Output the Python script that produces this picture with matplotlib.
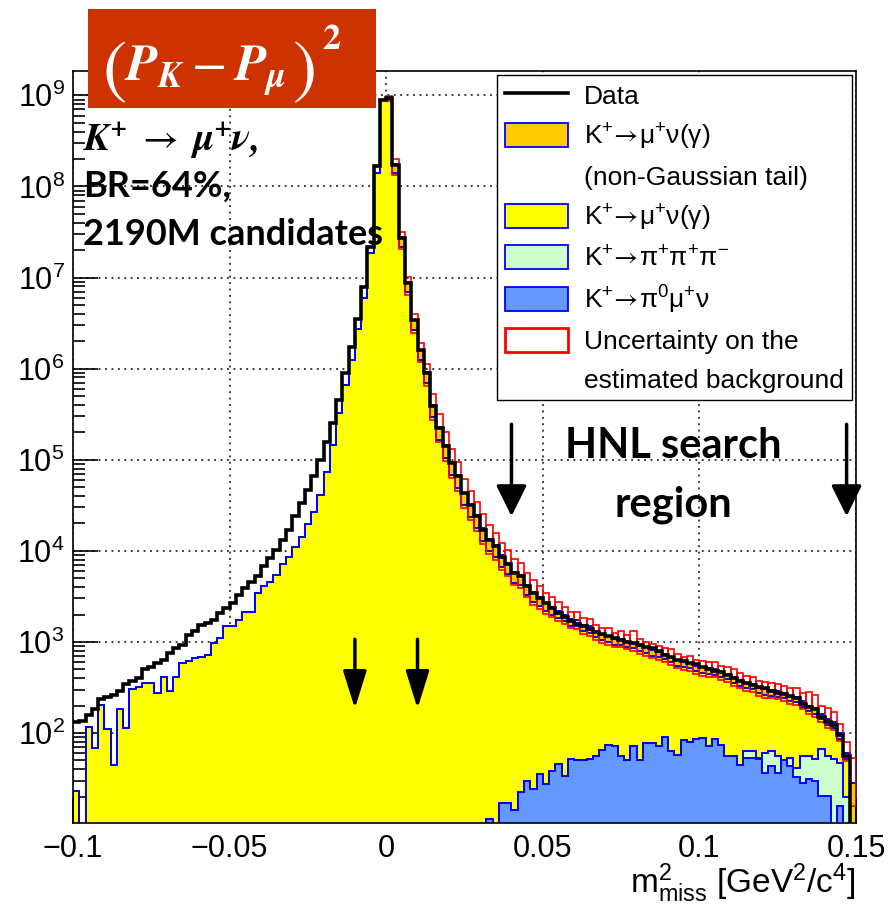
import numpy as np
import matplotlib
matplotlib.use('Agg')
import matplotlib.pyplot as plt
from matplotlib.patches import Patch, Rectangle
from matplotlib.lines import Line2D
from matplotlib.ticker import FixedLocator, MultipleLocator, LogLocator, FuncFormatter, NullFormatter

plt.rcParams['font.family'] = ['Liberation Sans', 'DejaVu Sans']
plt.rcParams['mathtext.fontset'] = 'stix'

# m2_miss binning: 125 bins of 0.002 GeV^2/c^4
x_lo, x_hi, n_bins = -0.1, 0.15, 125
edges = np.linspace(x_lo, x_hi, n_bins + 1)

# bin contents as log10(entries), -2 = empty bin
data_log = [
    2.12, 2.13, 2.20, 2.26, 2.37, 2.40, 2.42, 2.46, 2.54, 2.57,
    2.60, 2.70, 2.73, 2.77, 2.80, 2.88, 2.93, 2.97, 3.08, 3.12,
    3.19, 3.21, 3.24, 3.32, 3.37, 3.43, 3.52, 3.59, 3.66, 3.72,
    3.83, 3.92, 4.01, 4.12, 4.23, 4.38, 4.52, 4.67, 4.82, 5.00,
    5.20, 5.40, 5.66, 5.95, 6.24, 6.55, 6.90, 7.34, 8.22, 8.95,
    8.97, 8.24, 7.43, 6.94, 6.53, 6.20, 5.95, 5.59, 5.35, 5.15,
    4.96, 4.82, 4.63, 4.50, 4.38, 4.23, 4.12, 4.05, 3.93, 3.86,
    3.76, 3.72, 3.61, 3.54, 3.48, 3.43, 3.37, 3.32, 3.27, 3.23,
    3.20, 3.17, 3.14, 3.11, 3.09, 3.06, 3.04, 3.02, 3.00, 2.99,
    2.97, 2.95, 2.93, 2.90, 2.86, 2.83, 2.80, 2.79, 2.77, 2.76,
    2.72, 2.70, 2.68, 2.67, 2.64, 2.60, 2.57, 2.55, 2.53, 2.51,
    2.49, 2.46, 2.44, 2.43, 2.41, 2.38, 2.32, 2.29, 2.26, 2.18,
    2.12, 2.09, 1.98, 1.75, -2]

# top of the full stack (incl. non-Gaussian tail)
total_log = [
    1.36, -2, 2.07, 1.84, 2.31, 2.05, 1.65, 2.26, 2.06, 2.48,
    2.51, 2.55, 2.55, 2.44, 2.62, 2.46, 2.62, 2.77, 2.79, 2.82,
    2.84, 2.86, 2.99, 3.04, 3.17, 3.17, 3.24, 3.33, 3.33, 3.54,
    3.61, 3.66, 3.73, 3.86, 3.93, 4.04, 4.15, 4.30, 4.43, 4.61,
    4.87, 5.16, 5.51, 5.82, 6.10, 6.43, 6.78, 7.27, 8.15, 8.95,
    8.97, 8.25, 7.44, 6.95, 6.53, 6.21, 5.96, 5.60, 5.36, 5.16,
    4.97, 4.83, 4.64, 4.51, 4.39, 4.25, 4.13, 4.06, 3.95, 3.87,
    3.77, 3.73, 3.63, 3.55, 3.49, 3.43, 3.38, 3.34, 3.30, 3.25,
    3.24, 3.19, 3.17, 3.12, 3.08, 3.07, 3.03, 3.03, 3.01, 2.99,
    2.96, 2.94, 2.91, 2.89, 2.87, 2.84, 2.80, 2.78, 2.77, 2.74,
    2.72, 2.71, 2.70, 2.67, 2.65, 2.61, 2.58, 2.55, 2.54, 2.50,
    2.48, 2.47, 2.46, 2.44, 2.41, 2.40, 2.35, 2.30, 2.27, 2.21,
    2.15, 2.12, 2.00, 1.78, 1.45]

# top of K->mu nu (gamma) layer; no tail below m2 = 0
munu_log = total_log[:50] + [
    8.96, 8.15, 7.34, 6.84, 6.42, 6.10, 5.84, 5.47, 5.22, 5.02,
    4.83, 4.69, 4.50, 4.37, 4.25, 4.11, 4.00, 3.93, 3.82, 3.75,
    3.65, 3.62, 3.52, 3.44, 3.39, 3.34, 3.30, 3.26, 3.23, 3.18,
    3.17, 3.12, 3.10, 3.05, 3.02, 3.00, 2.97, 2.97, 2.95, 2.93,
    2.90, 2.88, 2.85, 2.83, 2.81, 2.78, 2.74, 2.72, 2.71, 2.68,
    2.66, 2.65, 2.64, 2.61, 2.59, 2.55, 2.52, 2.49, 2.48, 2.44,
    2.42, 2.41, 2.40, 2.38, 2.35, 2.34, 2.29, 2.24, 2.21, 2.15,
    2.09, 2.06, 1.94, 1.72, -2]

# K->pi0 mu nu
pi0_log = [-2] * 66 + [
    1.06, -2, 1.23, 1.23, 1.16, 1.35, 1.47, 1.39, 1.55, 1.44,
    1.58, 1.66, 1.53, 1.72, 1.70, 1.70, 1.71, 1.75, 1.81, 1.87,
    1.86, 1.75, 1.70, 1.86, 1.70, 1.89, 1.89, 1.86, 1.96, 1.80,
    1.76, 1.92, 1.90, 1.93, 1.95, 1.86, 1.93, 1.87, 1.75, 1.75,
    1.65, 1.73, 1.73, 1.71, 1.56, 1.64, 1.56, 1.70, 1.64, 1.52,
    1.45, 1.50, 1.47, 1.31, 1.31, -2, 1.20, -2, -2]

# top of K->pi pi pi layer (stacked on pi0 mu nu)
pi3_log = pi0_log[:107] + [
    1.80, 1.80, 1.73, 1.78, 1.80, 1.75, 1.70, 1.73, 1.62, 1.75,
    1.75, 1.72, 1.82, 1.75, 1.72, 1.67, 1.30, -2]

# background uncertainty band, bins 50..124
band_start = 50
band_hi_log = [
    8.99, 8.30, 7.50, 7.01, 6.60, 6.28, 6.05, 5.72, 5.50, 5.30,
    5.12, 4.97, 4.79, 4.66, 4.54, 4.40, 4.28, 4.20, 4.09, 4.01,
    3.91, 3.87, 3.76, 3.68, 3.61, 3.54, 3.49, 3.44, 3.38, 3.33,
    3.33, 3.26, 3.25, 3.19, 3.15, 3.15, 3.10, 3.12, 3.08, 3.12,
    3.03, 3.00, 2.98, 2.96, 2.93, 2.92, 2.87, 2.84, 2.85, 2.80,
    2.79, 2.78, 2.78, 2.74, 2.73, 2.70, 2.66, 2.63, 2.62, 2.57,
    2.56, 2.55, 2.54, 2.52, 2.49, 2.49, 2.44, 2.45, 2.42, 2.30,
    2.27, 2.23, 2.10, 1.90, 1.73]
band_lo_log = [
    8.94, 8.13, 7.31, 6.81, 6.39, 6.07, 5.81, 5.44, 5.19, 4.99,
    4.80, 4.66, 4.47, 4.34, 4.22, 4.08, 3.97, 3.90, 3.79, 3.72,
    3.62, 3.59, 3.49, 3.41, 3.36, 3.31, 3.27, 3.23, 3.20, 3.15,
    3.14, 3.09, 3.07, 3.02, 2.99, 2.97, 2.94, 2.94, 2.92, 2.90,
    2.87, 2.85, 2.82, 2.80, 2.78, 2.75, 2.71, 2.69, 2.68, 2.65,
    2.63, 2.62, 2.61, 2.58, 2.56, 2.52, 2.49, 2.46, 2.45, 2.41,
    2.39, 2.38, 2.37, 2.35, 2.32, 2.31, 2.26, 2.21, 2.18, 2.12,
    2.06, 2.03, 1.91, 1.69, 1.20]

x_ticks = [-0.1, -0.05, 0, 0.05, 0.1, 0.15]
x_ticklabels = ['\u22120.1', '\u22120.05', '0', '0.05', '0.1', '0.15']

# arrows: (x, from, to)
cut_arrows = [(-0.01, 1070, 186), (0.01, 1070, 186)]
hnl_arrows = [(0.04, 2.45e5, 2.4e4), (0.147, 2.45e5, 2.4e4)]

col_tail = '#FFCC00'
col_munu = '#FFFF00'
col_3pi = '#CCFFCC'
col_pi0 = '#6699FF'
col_line = '#0000FF'


def counts(a):
    return 10.0 ** np.asarray(a, dtype=float)


fig = plt.figure(figsize=(8.91, 9.05), dpi=100)
ax = fig.add_axes([73 / 891, 82 / 905, 783 / 891, 752 / 905])

floor = 1e-2
layers = [(total_log, col_tail), (munu_log, col_munu),
          (pi3_log, col_3pi), (pi0_log, col_pi0)]
for lvl, col in layers:
    v = counts(lvl)
    ax.stairs(v, edges, baseline=floor, fill=True, color=col, lw=0, zorder=2)
    ax.stairs(v, edges, baseline=floor, color=col_line, lw=1.4, zorder=2.1)

# uncertainty boxes
width = edges[1] - edges[0]
centers = 0.5 * (edges[:-1] + edges[1:])
hi = counts(band_hi_log)
lo = counts(band_lo_log)
ax.bar(centers[band_start:], hi - lo, bottom=lo, width=width, fill=False,
       edgecolor='#FF0000', lw=1.2, zorder=3)

ax.stairs(counts(data_log), edges, baseline=None, color='black', lw=2.6, zorder=4)

for x, y0, y1 in cut_arrows:
    ax.annotate('', xy=(x, y1), xytext=(x, y0), zorder=5,
                arrowprops=dict(arrowstyle='-|>,head_length=1.15,head_width=0.36',
                                mutation_scale=20, color='black', lw=2.5,
                                shrinkA=0, shrinkB=0))
for x, y0, y1 in hnl_arrows:
    ax.annotate('', xy=(x, y1), xytext=(x, y0), zorder=5,
                arrowprops=dict(arrowstyle='-|>,head_length=0.95,head_width=0.47',
                                mutation_scale=20, color='black', lw=2.5,
                                shrinkA=0, shrinkB=0))

ax.set_xlim(x_lo, x_hi)
ax.set_yscale('log')
ax.set_ylim(10.3, 1.85e9)

ax.xaxis.set_major_locator(FixedLocator(x_ticks))
ax.set_xticklabels(x_ticklabels)
ax.xaxis.set_minor_locator(MultipleLocator(0.01))
ax.yaxis.set_major_locator(FixedLocator([1e2, 1e3, 1e4, 1e5, 1e6, 1e7, 1e8, 1e9]))
ax.yaxis.set_minor_locator(LogLocator(base=10, subs=np.arange(2, 10), numticks=20))
ax.yaxis.set_major_formatter(FuncFormatter(lambda v, p: r'$\mathregular{10^{%d}}$' % round(np.log10(v))))
ax.yaxis.set_minor_formatter(NullFormatter())

ax.tick_params(which='both', direction='in', labelsize=22, width=1.2)
ax.tick_params(axis='x', which='major', length=17, pad=8)
ax.tick_params(axis='x', which='minor', length=8.5)
ax.tick_params(axis='y', which='major', length=18, pad=6)
ax.tick_params(axis='y', which='minor', length=8.5)
for s in ax.spines.values():
    s.set_linewidth(1.2)

ax.set_axisbelow(True)
ax.grid(True, which='major', color='black', lw=1.1, ls=(0, (1.2, 3)))

fig.text(856 / 891, 1 - 893 / 905,
         r'$\mathregular{m^{2}_{miss}}$ [GeV$\mathregular{^{2}}$/c$\mathregular{^{4}}$]',
         ha='right', va='baseline', fontsize=24)

arrow = r'\!\rightarrow\!'
handles = [
    Line2D([], [], color='black', lw=2.6),
    Patch(facecolor=col_tail, edgecolor=col_line, lw=1.3),
    Patch(facecolor='none', edgecolor='none'),
    Patch(facecolor=col_munu, edgecolor=col_line, lw=1.3),
    Patch(facecolor=col_3pi, edgecolor=col_line, lw=1.3),
    Patch(facecolor=col_pi0, edgecolor=col_line, lw=1.3),
    Patch(facecolor='white', edgecolor='#FF0000', lw=2),
    Patch(facecolor='none', edgecolor='none'),
]
labels = ['Data',
          r'$\mathregular{K^{+}}' + arrow + r'\mathregular{\mu^{+}\nu(\gamma)}$',
          '(non-Gaussian tail)',
          r'$\mathregular{K^{+}}' + arrow + r'\mathregular{\mu^{+}\nu(\gamma)}$',
          r'$\mathregular{K^{+}}' + arrow + r'\mathregular{\pi^{+}\pi^{+}\pi^{-}}$',
          r'$\mathregular{K^{+}}' + arrow + r'\mathregular{\pi^{0}\mu^{+}\nu}$',
          'Uncertainty on the',
          'estimated background']
leg = ax.legend(handles, labels, loc='upper right',
                bbox_to_anchor=(852 / 891, 830 / 905), bbox_transform=fig.transFigure,
                frameon=True, fancybox=False, framealpha=1, edgecolor='black',
                fontsize=19, handlelength=2.4, handleheight=1.02,
                handletextpad=0.6, labelspacing=0.47, borderpad=0.3, borderaxespad=0)
leg.get_frame().set_linewidth(1.0)
leg.set_zorder(6)

# formula box on top of the frame
fig.add_artist(Rectangle((88 / 891, 1 - 108 / 905), 288 / 891, 99 / 905,
                         transform=fig.transFigure, facecolor='#CC3300',
                         edgecolor='none', zorder=10))
paren_font = ['STIXGeneral', 'DejaVu Serif']
fig.text(102 / 891, 1 - 90 / 905, '(', ha='left', va='baseline', fontsize=52,
         family=paren_font, color='white', zorder=11)
fig.text(124 / 891, 1 - 81 / 905, r'$\mathbfit{P_{K}} - \mathbfit{P_{\mu}}$',
         ha='left', va='baseline', fontsize=37, color='white', zorder=11)
fig.text(293 / 891, 1 - 90 / 905, ')', ha='left', va='baseline', fontsize=52,
         family=paren_font, color='white', zorder=11)
fig.text(322 / 891, 1 - 49 / 905, r'$\mathbf{2}$', ha='left', va='baseline',
         fontsize=26, color='white', zorder=11)

fig.text(83 / 891, 1 - 151 / 905,
         r'$\mathbfit{K^{+}}\ \rightarrow\ \mathbfit{\mu^{+}\nu,}$',
         ha='left', va='baseline', fontsize=28, zorder=11)
bold_font = ['Lato', 'DejaVu Sans']
fig.text(83 / 891, 1 - 197 / 905, 'BR=64%,', ha='left', va='baseline',
         fontsize=26, fontweight='bold', family=bold_font, zorder=11)
fig.text(83 / 891, 1 - 245 / 905, '2190M candidates', ha='left', va='baseline',
         fontsize=26, fontweight='bold', family=bold_font, zorder=11)
fig.text(673 / 891, 1 - 458 / 905, 'HNL search', ha='center', va='baseline',
         fontsize=30, fontweight='bold', family=bold_font, zorder=11)
fig.text(673 / 891, 1 - 516 / 905, 'region', ha='center', va='baseline',
         fontsize=30, fontweight='bold', family=bold_font, zorder=11)

fig.savefig('out.png', dpi=100)
